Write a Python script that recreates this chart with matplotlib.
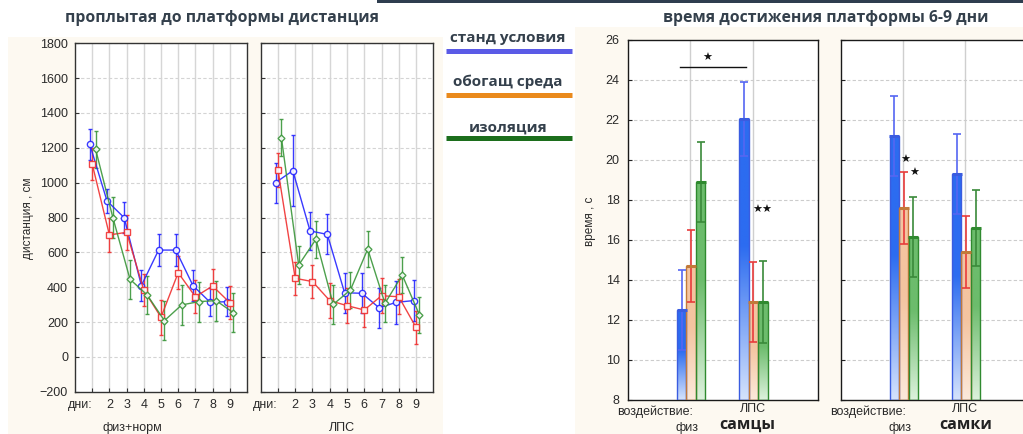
import numpy as np
import matplotlib.pyplot as plt
from matplotlib.patches import Rectangle
from matplotlib.colors import to_rgb
from matplotlib.transforms import blended_transform_factory

plt.rcParams['font.family'] = ['Liberation Sans', 'DejaVu Sans']

# --- distance swum to the platform, days 1-9 ---
days = [1, 2, 3, 4, 5, 6, 7, 8, 9]
day_labels = ['дни:', '2', '3', '4', '5', '6', '7', '8', '9']

fiz_std = [1220, 895, 799, 409, 613, 613, 409, 313, 317]
fiz_std_err = [90, 70, 90, 90, 90, 90, 90, 80, 85]
fiz_enr = [1107, 700, 715, 384, 227, 483, 345, 407, 311]
fiz_enr_err = [90, 100, 100, 90, 100, 95, 95, 100, 95]
fiz_iso = [1191, 800, 445, 355, 208, 298, 317, 323, 254]
fiz_iso_err = [105, 120, 110, 110, 110, 115, 115, 115, 110]

lps_std = [1000, 1069, 723, 703, 368, 365, 282, 313, 323]
lps_std_err = [115, 205, 110, 115, 115, 115, 115, 125, 120]
lps_enr = [1073, 451, 432, 323, 294, 269, 351, 345, 169]
lps_enr_err = [100, 95, 95, 100, 100, 95, 100, 100, 95]
lps_iso = [1258, 527, 675, 301, 384, 619, 307, 470, 240]
lps_iso_err = [105, 110, 105, 110, 105, 105, 105, 105, 105]

# --- time to reach the platform, days 6-9 ---
groups = ['физ', 'ЛПС']
male_std = [12.5, 22.05]
male_std_err = [2.0, 1.85]
male_enr = [14.7, 12.9]
male_enr_err = [1.8, 2.0]
male_iso = [18.9, 12.9]
male_iso_err = [2.0, 2.05]
female_std = [21.2, 19.3]
female_std_err = [2.0, 2.0]
female_enr = [17.6, 15.4]
female_enr_err = [1.8, 1.8]
female_iso = [16.15, 16.6]
female_iso_err = [2.0, 1.9]

legend_names = ['станд условия', 'обогащ среда', 'изоляция']
legend_colors = ['#5a5ae6', '#ea8a1c', '#1c6e1c']

W, H = 1023, 434
fig = plt.figure(figsize=(W / 100, H / 100), dpi=100)


def box(x0, y0, x1, y1):
    return [x0 / W, 1 - y1 / H, (x1 - x0) / W, (y1 - y0) / H]


def fx(x):
    return x / W


def fy(y):
    return 1 - y / H


# slide backgrounds
for (x0, y0, x1, y1), col in [((8, 37, 443, 440), '#fdf9f1'),
                              ((575, 27, 1030, 440), '#fdf9f1'),
                              ((377, -2, 1030, 3), '#2e3d4f')]:
    fig.add_artist(Rectangle((fx(x0), fy(y1)), (x1 - x0) / W, (y1 - y0) / H,
                             transform=fig.transFigure, facecolor=col,
                             edgecolor='none', zorder=0))

title_kw = dict(family=['Open Sans', 'DejaVu Sans'], fontweight='bold',
                fontsize=11.3, color='#34404c', ha='center', va='center')
fig.text(fx(222), fy(18), 'проплытая до платформы дистанция', **title_kw)
fig.text(fx(826), fy(18), 'время достижения платформы 6-9 дни', **title_kw)

# legend drawn as slide text with coloured rules
legend_kw = dict(title_kw, fontsize=11)
for name, col, ty, ly in zip(legend_names, legend_colors, [38, 82, 128], [51, 94.5, 137.5]):
    fig.text(fx(508), fy(ty), name, **legend_kw)
    fig.add_artist(plt.Line2D([fx(446), fx(572)], [fy(ly), fy(ly)], color=col,
                              lw=3.6, solid_capstyle='butt', transform=fig.transFigure))

tick_kw = dict(fontsize=9, color='#2a2a2a')

# ---------- line charts ----------
line_series = [
    [(fiz_std, fiz_std_err), (fiz_enr, fiz_enr_err), (fiz_iso, fiz_iso_err)],
    [(lps_std, lps_std_err), (lps_enr, lps_enr_err), (lps_iso, lps_iso_err)],
]
line_colors = ['#2424ff', '#f03030', '#3a963a']
line_markers = ['o', 's', 'D']
line_ms = [4.5, 4.5, 3.5]
line_offsets = [-0.14, 0.0, 0.2]
line_axes = [box(75, 43.3, 247, 391.7), box(260.7, 43.3, 433.3, 391.7)]

for i, (pos, series) in enumerate(zip(line_axes, line_series)):
    ax = fig.add_axes(pos)
    ax.set_xlim(0, 10)
    ax.set_ylim(-200, 1800)
    ax.set_yticks(np.arange(-200, 1801, 200))
    ax.set_xticks(days)
    ax.set_xticklabels(day_labels)
    ax.get_xticklabels()[0].set_ha('right')
    ax.set_axisbelow(True)
    for d in days:
        ax.axvline(d, color='#d6d6d6', lw=1, zorder=0)
    for yv in np.arange(0, 1801, 200):
        ax.axhline(yv, color='#d4d4d4', lw=0.8, ls=(0, (3, 2)), zorder=0)
    for (vals, errs), col, mk, ms, off in zip(series, line_colors, line_markers,
                                                line_ms, line_offsets):
        ax.errorbar(np.array(days) + off, vals, yerr=errs, color=col, marker=mk,
                    mfc='white', mec=col, ms=ms, mew=1, lw=1, elinewidth=1,
                    capsize=1.5, alpha=0.9, zorder=3)
    ax.tick_params(direction='in', length=3, width=0.8, color='#333333', pad=5,
                   labelsize=9, labelcolor='#2a2a2a')
    for s in ax.spines.values():
        s.set_color('#333333')
        s.set_linewidth(1)
    if i == 1:
        ax.set_yticklabels([])

fig.text(fx(28), fy(218), 'дистанция , см', rotation=90, ha='center', va='center',
         fontsize=8.5, color='#2a2a2a')
fig.text(fx(132), fy(431), 'физ+норм', ha='center', va='baseline', **tick_kw)
fig.text(fx(342), fy(431), 'ЛПС', ha='center', va='baseline', **tick_kw)

# ---------- bar charts ----------
bar_series = [
    [(male_std, male_std_err), (male_enr, male_enr_err), (male_iso, male_iso_err)],
    [(female_std, female_std_err), (female_enr, female_enr_err), (female_iso, female_iso_err)],
]
bar_top = ['#2c6cf0', '#f4c4a0', '#6cbc6c']
bar_bottom = ['#d4e2fc', '#fce9da', '#dcf1dc']
bar_edge = ['#3a5ce0', '#c27a3a', '#2f8a2f']
err_colors = ['#5566f2', '#e83c3c', '#3a8a3a']
bar_offsets = [-0.14, 0.01, 0.165]
bar_w = 0.15
bar_axes = [box(628, 40, 818, 400), box(840.7, 40, 1030.7, 400)]
sex_names = ['самцы', 'самки']


def gradient_fill(ax, patch, top, bottom):
    x0, y0 = patch.get_x(), patch.get_y()
    w, h = patch.get_width(), patch.get_height()
    t = np.linspace(0, 1, 80)
    frac = np.clip(t / 0.55, 0, 1)[:, None, None]
    img = np.array(to_rgb(bottom))[None, None, :] * (1 - frac) + \
        np.array(to_rgb(top))[None, None, :] * frac
    im = ax.imshow(img, extent=[x0, x0 + w, y0, y0 + h], origin='lower',
                   aspect='auto', interpolation='bilinear', zorder=2)
    im.set_clip_path(patch)


xs_base = np.arange(1, len(groups) + 1)
for i, (pos, series) in enumerate(zip(bar_axes, bar_series)):
    ax = fig.add_axes(pos)
    ax.set_axisbelow(True)
    for xv in xs_base:
        ax.axvline(xv, color='#cfcfcf', lw=1, zorder=0)
    for yv in np.arange(10, 25, 2):
        ax.axhline(yv, color='#cccccc', lw=0.8, ls=(0, (3, 2)), zorder=0)
    for k, (vals, errs) in enumerate(series):
        xs = xs_base + bar_offsets[k]
        bars = ax.bar(xs, np.array(vals) - 8, bottom=8, width=bar_w,
                      facecolor='none', edgecolor=bar_edge[k], lw=1, zorder=3)
        for b in bars:
            gradient_fill(ax, b, bar_top[k], bar_bottom[k])
        ax.errorbar(xs, vals, yerr=errs, fmt='none', ecolor=err_colors[k],
                    elinewidth=1.2, capsize=3, capthick=1.2, zorder=4)
        ax.plot(xs, vals, ls='none', marker='_', ms=7, mew=2.2,
                color=bar_edge[k], zorder=5)
    ax.set_xlim(0, 3.05)
    ax.set_ylim(8, 26)
    ax.set_yticks(np.arange(8, 27, 2))
    ax.set_xticks(xs_base)
    ax.set_xticklabels([])
    ax.tick_params(direction='in', length=3, width=0.8, color='#222222', pad=6,
                   labelsize=9, labelcolor='#2a2a2a')
    for s in ax.spines.values():
        s.set_color('#1a1a1a')
        s.set_linewidth(1)
    if i == 1:
        ax.set_yticklabels([])
    tr = blended_transform_factory(ax.transData, fig.transFigure)
    ax.text(1.05, fy(415), 'воздействие:', transform=tr, ha='right',
            va='baseline', clip_on=False, **tick_kw)
    ax.text(2.0, fy(412), groups[1], transform=tr, ha='center',
            va='baseline', clip_on=False, **tick_kw)
    ax.text(0.95, fy(431), groups[0], transform=tr, ha='center',
            va='baseline', clip_on=False, **tick_kw)
    ax.text(2.0 - 0.09 * (1 - i), fy(429), sex_names[i], transform=tr, ha='center',
            va='baseline', clip_on=False, family=['Open Sans', 'DejaVu Sans'],
            fontweight='bold', fontsize=11.5, color='#222222')

    star_kw = dict(family='DejaVu Sans', fontsize=8, color='#111111',
                   ha='center', va='center', zorder=6)
    if i == 0:
        ax.plot([0.84, 1.9], [24.67, 24.67], color='#111111', lw=1, zorder=6)
        ax.text(1.27, 25.1, '★', **star_kw)
        ax.text(2.15, 17.5, '★★', **star_kw)
    else:
        ax.text(1.04, 20.0, '★', **star_kw)
        ax.text(1.18, 19.33, '★', **star_kw)

fig.text(fx(590), fy(221), 'время , с', rotation=90, ha='center', va='center',
         fontsize=8.5, color='#2a2a2a')

fig.savefig('out.png', dpi=100, facecolor='white')
